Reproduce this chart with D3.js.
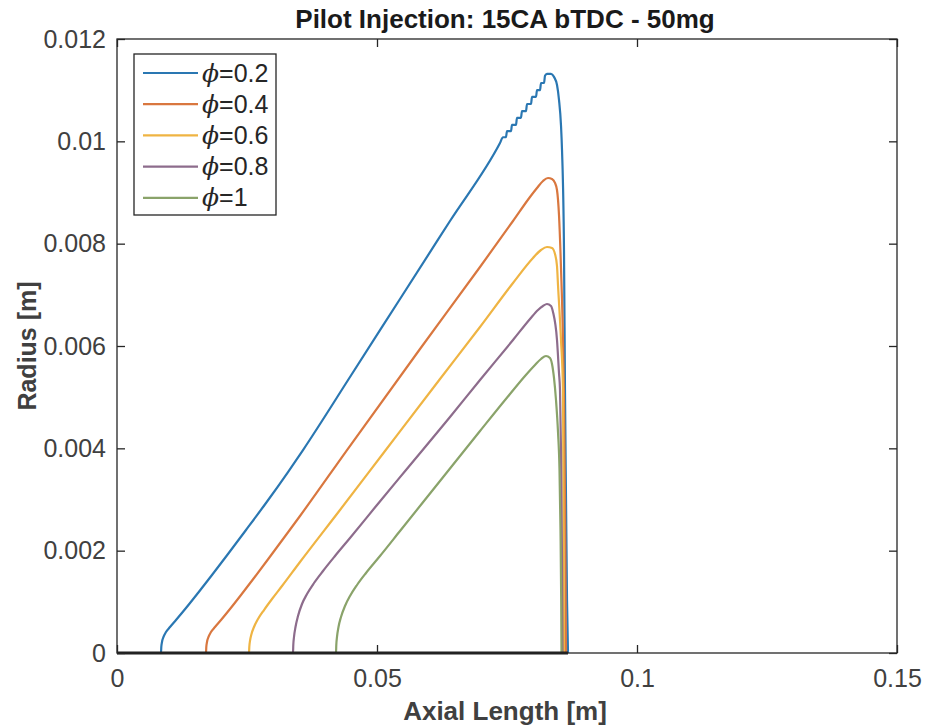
<!DOCTYPE html>
<html><head><meta charset="utf-8">
<script src="https://cdn.jsdelivr.net/npm/d3@7"></script>
<style>body{margin:0;background:#fff;}svg{display:block;}</style>
</head><body>
<script>
const seriesNames = ["=0.2","=0.4","=0.6","=0.8","=1"];
const seriesColors = ["#2a77b2","#d9773f","#efb443","#8d6c8c","#8aa36a"];
const xTicks = [0, 0.05, 0.1, 0.15];
const xTickLabels = ["0","0.05","0.1","0.15"];
const yTicks = [0,0.002,0.004,0.006,0.008,0.01,0.012];
const yTickLabels = ["0","0.002","0.004","0.006","0.008","0.01","0.012"];

const phi02 = [[0,0],[0.008462,0],[0.008519,0.000117],[0.008654,0.000215],[0.008942,0.000313],[0.009423,0.00041],[0.010192,0.000508],[0.011346,0.000645],[0.013269,0.000879],[0.015577,0.001173],[0.018269,0.001524],[0.021346,0.001935],[0.024808,0.002404],[0.028654,0.002932],[0.032885,0.003537],[0.035769,0.003967],[0.044808,0.005394],[0.054423,0.006919],[0.064038,0.008443],[0.073654,0.009967],[0.07423,0.01008],[0.0748,0.01008],[0.075,0.0102],[0.07577,0.0102],[0.07596,0.01032],[0.07673,0.01032],[0.07692,0.01046],[0.07769,0.01046],[0.07788,0.01059],[0.07865,0.01059],[0.07885,0.01073],[0.07962,0.01073],[0.07981,0.01087],[0.08058,0.01087],[0.08077,0.011],[0.08135,0.011],[0.08154,0.01114],[0.08212,0.01114],[0.08231,0.01128],[0.08269,0.01132],[0.08346,0.01132],[0.08404,0.01126],[0.08462,0.0111],[0.085,0.01081],[0.08538,0.01032],[0.08558,0.00983],[0.08596,0.00788],[0.08615,0.00514],[0.08635,0.00299],[0.08654,0.00104],[0.08673,0]];
const phi04 = [[0,0],[0.017115,0],[0.017173,0.000117],[0.017308,0.000215],[0.017596,0.000313],[0.018077,0.00041],[0.018846,0.000508],[0.02,0.000645],[0.021731,0.00086],[0.023846,0.001134],[0.026346,0.001466],[0.029231,0.001857],[0.0325,0.002306],[0.035192,0.002678],[0.044231,0.003967],[0.058269,0.005941],[0.069808,0.007544],[0.076154,0.008443],[0.079423,0.008912],[0.080769,0.009088],[0.081923,0.009225],[0.082885,0.009283],[0.083654,0.009264],[0.084231,0.009186],[0.084615,0.009049],[0.085,0.00856],[0.085385,0.007524],[0.085769,0.006117],[0.085962,0.004945],[0.086154,0.00299],[0.086346,0]];
const phi06 = [[0,0],[0.025385,0],[0.025442,0.000117],[0.025577,0.000235],[0.025865,0.000371],[0.026346,0.000508],[0.027115,0.000664],[0.028269,0.00084],[0.029808,0.001055],[0.031731,0.001309],[0.035192,0.001779],[0.042885,0.002795],[0.051538,0.003948],[0.062115,0.005355],[0.069808,0.006371],[0.076154,0.007231],[0.08,0.00772],[0.081538,0.007876],[0.082692,0.007935],[0.083654,0.007915],[0.084231,0.007798],[0.084615,0.007564],[0.084808,0.007192],[0.085385,0.006117],[0.085769,0.00514],[0.085865,0.00299],[0.085962,0]];
const phi08 = [[0,0],[0.033846,0],[0.033904,0.000156],[0.034038,0.000313],[0.034327,0.000508],[0.034808,0.000723],[0.035577,0.000958],[0.036538,0.001153],[0.037885,0.001368],[0.039615,0.001603],[0.041923,0.001896],[0.044808,0.002248],[0.05,0.002893],[0.055577,0.003577],[0.064038,0.004612],[0.069808,0.005336],[0.076154,0.006117],[0.079423,0.006528],[0.080962,0.006704],[0.081923,0.006782],[0.082692,0.006821],[0.083462,0.006782],[0.083846,0.006664],[0.084615,0.006117],[0.085,0.005472],[0.085192,0.00514],[0.085385,0.003967],[0.085577,0.001818],[0.085673,0]];
const phi10 = [[0,0],[0.042115,0],[0.042173,0.000156],[0.042308,0.000313],[0.042596,0.000508],[0.043077,0.000704],[0.043846,0.000919],[0.044808,0.001114],[0.046154,0.001329],[0.047885,0.001564],[0.050577,0.001896],[0.054423,0.002384],[0.062115,0.003362],[0.069808,0.004339],[0.075577,0.005062],[0.078462,0.005414],[0.080385,0.005629],[0.081538,0.005746],[0.0825,0.005805],[0.083269,0.005765],[0.083654,0.005648],[0.084038,0.005375],[0.084423,0.004945],[0.084808,0.004319],[0.085096,0.003577],[0.085288,0.002404],[0.085423,0.001036],[0.085481,0]];
const seriesData = [phi02, phi04, phi06, phi08, phi10];

const W = 925, H = 726;
const m = {left:117, top:39, right:28, bottom:73};
const pw = W - m.left - m.right, ph = H - m.top - m.bottom;
const axisColor = "#262626", textColor = "#404040";
const font = "'Liberation Sans', Arial, Helvetica, sans-serif";

const svg = d3.select("body").append("svg").attr("width", W).attr("height", H);
const x = d3.scaleLinear().domain([0, 0.15]).range([m.left, m.left + pw]);
const y = d3.scaleLinear().domain([0, 0.012]).range([m.top + ph, m.top]);

const line = d3.line().x(d => x(d[0])).y(d => y(d[1])).curve(d3.curveMonotoneX);
const g = svg.append("g");
seriesData.forEach((s, i) => {
  g.append("path").datum(s).attr("d", line).attr("fill", "none")
    .attr("stroke", seriesColors[i]).attr("stroke-width", 2.2).attr("stroke-linejoin", "round");
});

// dark baseline where series overlap at zero
const maxEnd = d3.max(seriesData, s => s[s.length - 1][0]);
svg.append("line").attr("x1", x(0)).attr("x2", x(maxEnd)).attr("y1", y(0)).attr("y2", y(0))
  .attr("stroke", "#1e1e1e").attr("stroke-width", 3);

// box
svg.append("rect").attr("x", m.left).attr("y", m.top).attr("width", pw).attr("height", ph)
  .attr("fill", "none").attr("stroke", axisColor).attr("stroke-width", 1.3);

const tickLen = 8, tickFont = 25;
const xb = svg.append("g").attr("transform", `translate(0,${m.top + ph})`)
  .call(d3.axisBottom(x).tickValues(xTicks).tickSizeInner(-tickLen).tickSizeOuter(0).tickPadding(16)
    .tickFormat((d, i) => xTickLabels[i]));
const xt = svg.append("g").attr("transform", `translate(0,${m.top})`)
  .call(d3.axisTop(x).tickValues(xTicks).tickSizeInner(-tickLen).tickSizeOuter(0).tickFormat(""));
const yl = svg.append("g").attr("transform", `translate(${m.left},0)`)
  .call(d3.axisLeft(y).tickValues(yTicks).tickSizeInner(-tickLen).tickSizeOuter(0).tickPadding(11)
    .tickFormat((d, i) => yTickLabels[i]));
const yr = svg.append("g").attr("transform", `translate(${m.left + pw},0)`)
  .call(d3.axisRight(y).tickValues(yTicks).tickSizeInner(-tickLen).tickSizeOuter(0).tickFormat(""));
[xb, xt, yl, yr].forEach(a => {
  a.select(".domain").remove();
  a.selectAll(".tick line").attr("stroke", axisColor).attr("stroke-width", 1.3);
  a.selectAll(".tick text").attr("fill", textColor).style("font-family", font).style("font-size", tickFont + "px");
});

svg.append("text").attr("x", m.left + pw / 2 - 2).attr("y", 28).attr("text-anchor", "middle")
  .style("font-family", font).style("font-weight", "bold").style("font-size", "26px").attr("fill", "#1a1a1a")
  .text("Pilot Injection: 15CA bTDC - 50mg");
svg.append("text").attr("x", m.left + pw / 2 - 2).attr("y", 720).attr("text-anchor", "middle")
  .style("font-family", font).style("font-weight", "bold").style("font-size", "26px").attr("fill", textColor)
  .text("Axial Length [m]");
svg.append("text").attr("transform", `translate(36,${m.top + ph / 2}) rotate(-90)`).attr("text-anchor", "middle")
  .style("font-family", font).style("font-weight", "bold").style("font-size", "25px").attr("fill", textColor)
  .text("Radius [m]");

// legend
const lg = svg.append("g");
lg.append("rect").attr("x", 134).attr("y", 54).attr("width", 142).attr("height", 161)
  .attr("fill", "#fff").attr("stroke", axisColor).attr("stroke-width", 1.3);
seriesNames.forEach((n, i) => {
  const yy = 73 + i * 31.2;
  lg.append("line").attr("x1", 143).attr("x2", 198).attr("y1", yy).attr("y2", yy)
    .attr("stroke", seriesColors[i]).attr("stroke-width", 2.2);
  const t = lg.append("text").attr("x", 202).attr("y", yy + 8.5)
    .style("font-family", font).style("font-size", "25px").attr("fill", "#262626");
  t.append("tspan").style("font-family", "'DejaVu Serif', serif").style("font-style", "italic").text("ϕ");
  t.append("tspan").text(n);
});
</script>
</body></html>
